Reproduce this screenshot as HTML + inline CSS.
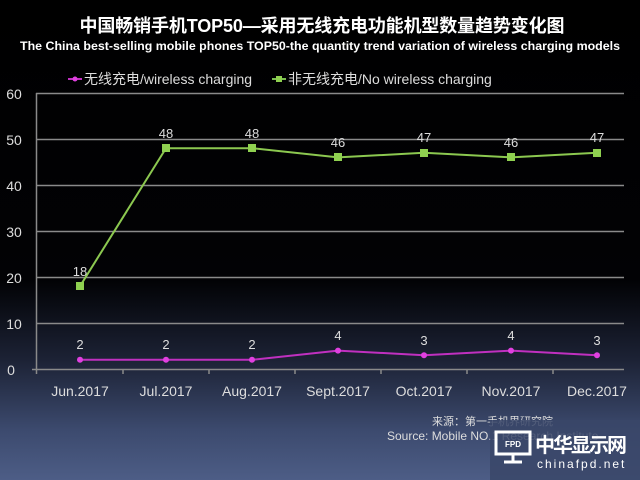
<!DOCTYPE html>
<html><head><meta charset="utf-8"><style>
html,body{margin:0;padding:0;}
body{width:640px;height:480px;overflow:hidden;background:linear-gradient(to bottom,#000 0px,#020205 280px,#1c2235 360px,#3c4a6e 430px,#4d5d86 480px);font-family:"Liberation Sans","Noto Sans CJK SC",sans-serif;}
</style></head><body>
<svg width="640" height="480" xmlns="http://www.w3.org/2000/svg" style="position:absolute;left:0;top:0;font-family:'Liberation Sans','Noto Sans CJK SC',sans-serif">
<text x="322" y="32" fill="#fff" font-size="18" font-weight="bold" text-anchor="middle" textLength="485">中国畅销手机TOP50—采用无线充电功能机型数量趋势变化图</text>
<text x="320" y="50" fill="#fff" font-size="12" font-weight="bold" text-anchor="middle" textLength="600" lengthAdjust="spacingAndGlyphs">The China best-selling mobile phones TOP50-the quantity trend variation of wireless charging models</text>
<line x1="68" y1="79" x2="82" y2="79" stroke="#c030c0" stroke-width="2"/><circle cx="75" cy="79" r="2.5" fill="#e040e0"/>
<text x="84" y="84" fill="#ddd" font-size="14">无线充电/wireless charging</text>
<line x1="272" y1="79" x2="286" y2="79" stroke="#7cc050" stroke-width="2"/><rect x="276" y="76" width="6" height="6" fill="#8fd050"/>
<text x="288" y="84" fill="#ddd" font-size="14">非无线充电/No wireless charging</text>
<g stroke="#8a8a8a" stroke-width="1.5">
<line x1="36" y1="93.5" x2="624" y2="93.5"/><line x1="36" y1="139.5" x2="624" y2="139.5"/><line x1="36" y1="185.5" x2="624" y2="185.5"/><line x1="36" y1="231.5" x2="624" y2="231.5"/><line x1="36" y1="277.5" x2="624" y2="277.5"/><line x1="36" y1="323.5" x2="624" y2="323.5"/><line x1="32" y1="369.5" x2="624" y2="369.5"/>
<line x1="36.5" y1="93" x2="36.5" y2="374"/>
<line x1="123" y1="369" x2="123" y2="374"/><line x1="209" y1="369" x2="209" y2="374"/><line x1="295" y1="369" x2="295" y2="374"/><line x1="381" y1="369" x2="381" y2="374"/><line x1="467" y1="369" x2="467" y2="374"/><line x1="553" y1="369" x2="553" y2="374"/>
</g>
<g fill="#ddd" font-size="14" text-anchor="middle">
<text x="14" y="99">60</text><text x="14" y="145">50</text><text x="14" y="191">40</text><text x="14" y="237">30</text><text x="14" y="283">20</text><text x="14" y="329">10</text><text x="11" y="375">0</text>
<text x="80" y="396">Jun.2017</text><text x="166" y="396">Jul.2017</text><text x="252" y="396">Aug.2017</text><text x="338" y="396">Sept.2017</text><text x="424" y="396">Oct.2017</text><text x="511" y="396">Nov.2017</text><text x="597" y="396">Dec.2017</text>
</g>
<polyline points="80,286.2 166,148.2 252,148.2 338,157.4 424,152.8 511,157.4 597,152.8" fill="none" stroke="#8cc850" stroke-width="2"/>
<g fill="#8fd050"><rect x="76" y="282" width="8" height="8"/><rect x="162" y="144" width="8" height="8"/><rect x="248" y="144" width="8" height="8"/><rect x="334" y="153" width="8" height="8"/><rect x="420" y="149" width="8" height="8"/><rect x="507" y="153" width="8" height="8"/><rect x="593" y="149" width="8" height="8"/></g>
<polyline points="80,359.8 166,359.8 252,359.8 338,350.6 424,355.2 511,350.6 597,355.2" fill="none" stroke="#c030c0" stroke-width="2"/>
<g fill="#e040e0"><circle cx="80" cy="359.8" r="3"/><circle cx="166" cy="359.8" r="3"/><circle cx="252" cy="359.8" r="3"/><circle cx="338" cy="350.6" r="3"/><circle cx="424" cy="355.2" r="3"/><circle cx="511" cy="350.6" r="3"/><circle cx="597" cy="355.2" r="3"/></g>
<g fill="#ddd" font-size="13" text-anchor="middle">
<text x="80" y="276">18</text><text x="166" y="138">48</text><text x="252" y="138">48</text><text x="338" y="147">46</text><text x="424" y="142">47</text><text x="511" y="147">46</text><text x="597" y="142">47</text>
<text x="80" y="349">2</text><text x="166" y="349">2</text><text x="252" y="349">2</text><text x="338" y="340">4</text><text x="424" y="345">3</text><text x="511" y="340">4</text><text x="597" y="345">3</text>
</g>
<text x="432" y="425" fill="#ddd" font-size="11">来源：第一手机界研究院</text>
<text x="387" y="440" fill="#ddd" font-size="12">Source: Mobile NO.1 Research Institute</text>
<rect x="490" y="420" width="150" height="60" fill="#3a4668" opacity="0.85"/>
<rect x="496" y="432" width="34" height="22" fill="none" stroke="#fff" stroke-width="3"/>
<text x="513" y="447" fill="#fff" font-size="8" font-weight="bold" text-anchor="middle">FPD</text>
<line x1="513" y1="454" x2="513" y2="461" stroke="#fff" stroke-width="3"/><line x1="504" y1="462" x2="522" y2="462" stroke="#fff" stroke-width="3"/>
<text x="535" y="452" fill="#fff" font-size="20" font-weight="bold" textLength="92">中华显示网</text>
<text x="537" y="468" fill="#fff" font-size="12" letter-spacing="2">chinafpd.net</text>
</svg>
</body></html>
